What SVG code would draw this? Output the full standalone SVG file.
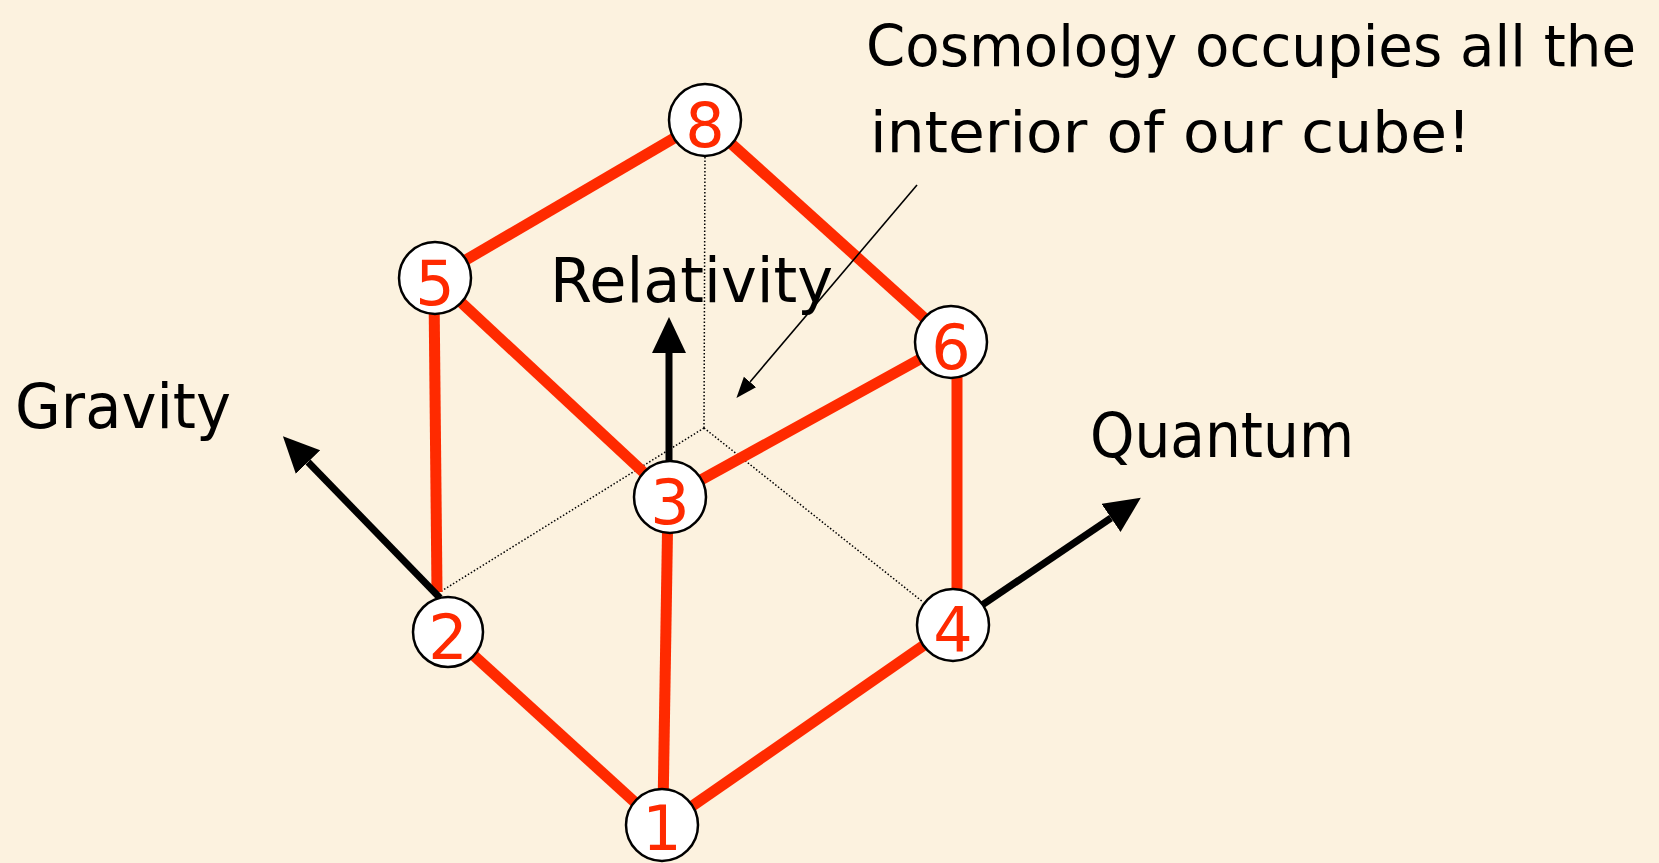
<svg xmlns="http://www.w3.org/2000/svg" width="1659" height="863" viewBox="0 0 1659 863">
<defs>
<style>
.red{stroke:#ff2a00;stroke-width:11;fill:none}
.dot{stroke:#000;stroke-width:1.5;stroke-dasharray:1.5 2;fill:none}
.axis{stroke:#000;stroke-width:7;fill:none}
.node circle{fill:#fff;stroke:#000;stroke-width:2.5}
.node text{fill:#ff2a00;font-family:"DejaVu Sans",sans-serif;font-size:62px;text-anchor:middle}
.lbl{fill:#000;font-family:"DejaVu Sans",sans-serif;font-size:62px}
.note{fill:#000;font-family:"DejaVu Sans",sans-serif;font-size:57px}
</style>
<marker id="bigArrow" markerUnits="userSpaceOnUse" markerWidth="40" markerHeight="40" refX="0" refY="17" orient="auto">
<path d="M0,0 L36,17 L0,34 Z" fill="#000"/>
</marker>
<marker id="smallArrow" markerUnits="userSpaceOnUse" markerWidth="24" markerHeight="20" refX="0" refY="8" orient="auto">
<path d="M0,0 L21,8 L0,16 Z" fill="#000"/>
</marker>
</defs>
<rect width="1659" height="863" fill="#fcf2df"/>
<g id="connectors">
<line class="dot" x1="705" y1="150" x2="704" y2="428"/>
<line class="dot" x1="704" y1="428" x2="440" y2="592"/>
<line class="dot" x1="704" y1="428" x2="923" y2="602"/>
<line class="red" x1="705" y1="120" x2="435" y2="278"/>
<line class="red" x1="705" y1="120" x2="951" y2="342"/>
<line class="red" x1="435" y1="278" x2="670" y2="497"/>
<line class="red" x1="434" y1="290" x2="437" y2="592"/>
<line class="red" x1="951" y1="342" x2="670" y2="497"/>
<line class="red" x1="957" y1="360" x2="957" y2="605"/>
<line class="red" x1="668" y1="500" x2="663" y2="810"/>
<line class="red" x1="448" y1="632" x2="662" y2="827"/>
<line class="red" x1="953" y1="625" x2="662" y2="827"/>
<line class="axis" x1="669" y1="462" x2="669" y2="353" marker-end="url(#bigArrow)"/>
<line class="axis" x1="440" y1="598" x2="308" y2="462" marker-end="url(#bigArrow)"/>
<line class="axis" x1="960" y1="620" x2="1111" y2="518" marker-end="url(#bigArrow)"/>
<line stroke="#000" stroke-width="1.6" x1="917" y1="185" x2="750" y2="382" marker-end="url(#smallArrow)"/>
</g>
<g id="node8" class="node"><circle cx="705" cy="120" r="36"/><text x="705" y="147">8</text></g>
<g id="node5" class="node"><circle cx="435" cy="278" r="36"/><text x="435" y="305">5</text></g>
<g id="node3" class="node"><circle cx="670" cy="497" r="36"/><text x="670" y="524">3</text></g>
<g id="node6" class="node"><circle cx="951" cy="342" r="36"/><text x="951" y="369">6</text></g>
<g id="node2" class="node"><circle cx="448" cy="632" r="35"/><text x="448" y="659">2</text></g>
<g id="node4" class="node"><circle cx="953" cy="625" r="36"/><text x="953" y="652">4</text></g>
<g id="node1" class="node"><circle cx="662" cy="825" r="36"/><text x="662" y="850">1</text></g>
<g id="labels">
<text class="lbl" x="550" y="302" textLength="283" lengthAdjust="spacingAndGlyphs">Relativity</text>
<text class="lbl" x="15" y="428" textLength="216" lengthAdjust="spacingAndGlyphs">Gravity</text>
<text class="lbl" x="1090" y="457" textLength="264" lengthAdjust="spacingAndGlyphs">Quantum</text>
<text class="note" x="866" y="66" textLength="770" lengthAdjust="spacingAndGlyphs">Cosmology occupies all the</text>
<text class="note" x="870" y="152" textLength="601" lengthAdjust="spacingAndGlyphs">interior of our cube!</text>
</g>
</svg>
